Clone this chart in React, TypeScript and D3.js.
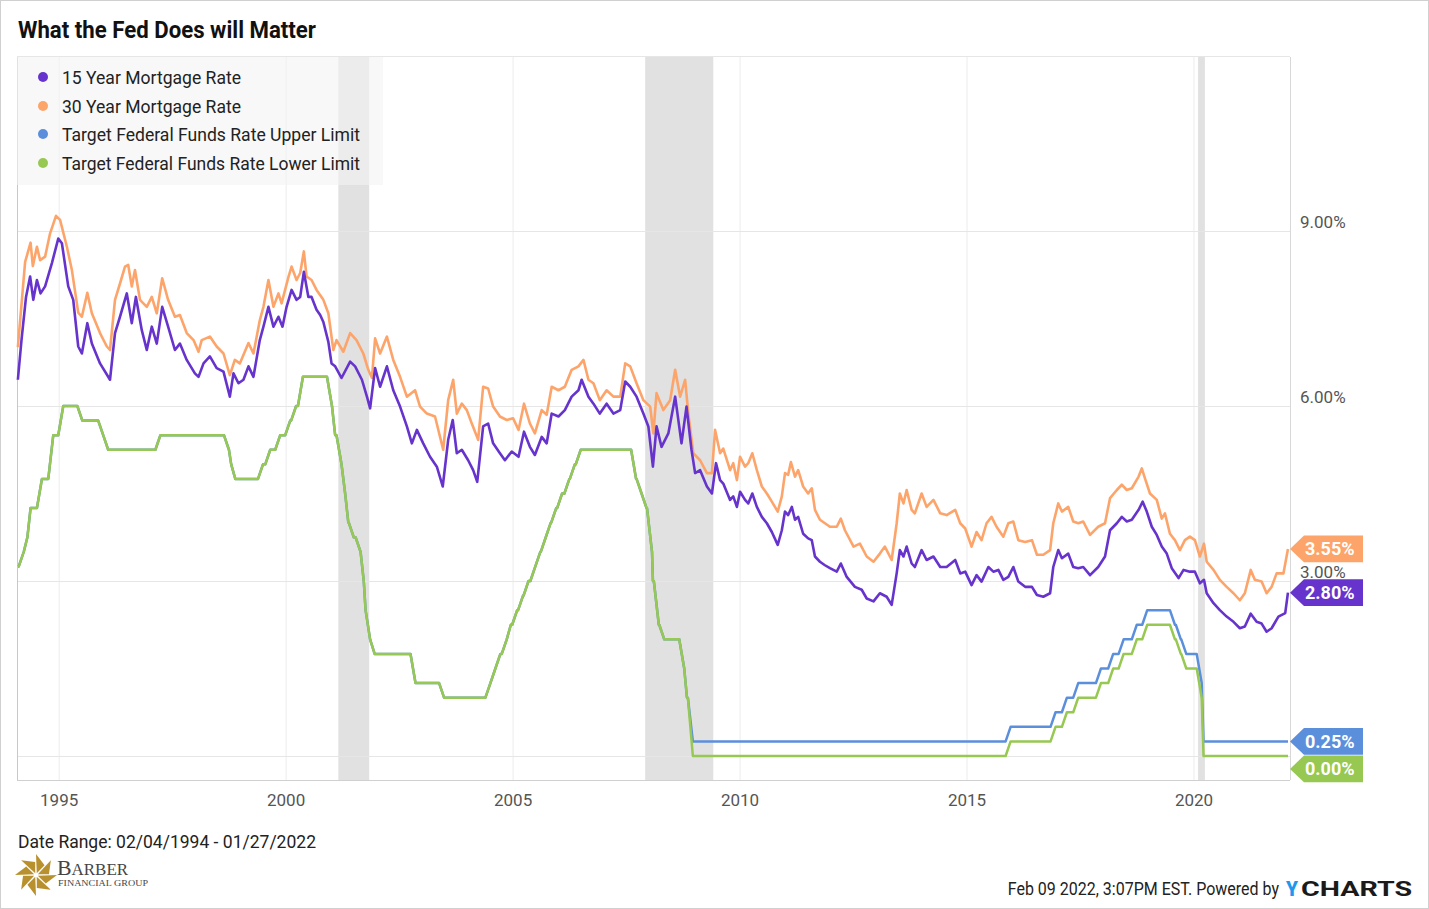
import React from "react";
import * as d3 from "d3";

const START = 1994.093;
const END = 2022.071;

const seriesNames = [
  "15 Year Mortgage Rate",
  "30 Year Mortgage Rate",
  "Target Federal Funds Rate Upper Limit",
  "Target Federal Funds Rate Lower Limit",
];
const seriesColors = ["#6633cc", "#fda46a", "#5b8fdc", "#96c852"];

const m30Years = [
  1994.09,1994.25,1994.37,1994.42,1994.51,1994.58,1994.69,1994.80,1994.93,1995.02,
  1995.17,1995.28,1995.42,1995.50,1995.62,1995.72,1995.90,1996.05,1996.12,1996.23,
  1996.34,1996.45,1996.52,1996.60,1996.67,1996.78,1996.93,1997.04,1997.15,1997.27,
  1997.40,1997.55,1997.66,1997.81,1997.96,1998.07,1998.14,1998.32,1998.47,1998.62,
  1998.76,1998.87,1998.98,1999.17,1999.28,1999.42,1999.50,1999.61,1999.72,1999.83,
  1999.90,2000.05,2000.12,2000.23,2000.31,2000.39,2000.45,2000.56,2000.67,2000.82,
  2000.93,2001.04,2001.11,2001.26,2001.41,2001.55,2001.70,2001.81,2001.89,2001.96,
  2002.07,2002.22,2002.36,2002.51,2002.66,2002.84,2002.95,2003.10,2003.28,2003.46,
  2003.57,2003.68,2003.76,2003.87,2003.98,2004.09,2004.23,2004.34,2004.45,2004.56,
  2004.71,2004.86,2005.00,2005.12,2005.24,2005.37,2005.48,2005.63,2005.74,2005.85,
  2006.00,2006.14,2006.29,2006.44,2006.55,2006.66,2006.77,2006.91,2007.06,2007.21,
  2007.36,2007.47,2007.58,2007.72,2007.87,2008.02,2008.09,2008.16,2008.31,2008.46,
  2008.57,2008.68,2008.79,2008.86,2008.97,2009.12,2009.27,2009.38,2009.45,2009.56,
  2009.63,2009.78,2009.85,2009.93,2010.00,2010.11,2010.18,2010.27,2010.37,2010.48,
  2010.59,2010.70,2010.83,2010.92,2010.99,2011.06,2011.12,2011.21,2011.28,2011.39,
  2011.50,2011.58,2011.65,2011.76,2011.87,2011.98,2012.13,2012.22,2012.31,2012.50,
  2012.64,2012.79,2012.94,2013.08,2013.19,2013.34,2013.45,2013.52,2013.60,2013.67,
  2013.78,2013.85,2014.00,2014.11,2014.26,2014.41,2014.55,2014.74,2014.85,2014.96,
  2015.10,2015.21,2015.32,2015.43,2015.54,2015.65,2015.80,2015.91,2016.02,2016.13,
  2016.28,2016.43,2016.54,2016.68,2016.83,2016.90,2017.01,2017.09,2017.23,2017.34,
  2017.45,2017.56,2017.71,2017.89,2018.04,2018.15,2018.30,2018.41,2018.52,2018.63,
  2018.78,2018.85,2018.92,2019.03,2019.18,2019.29,2019.36,2019.47,2019.58,2019.69,
  2019.80,2019.91,2020.02,2020.13,2020.22,2020.28,2020.43,2020.57,2020.72,2020.87,
  2021.01,2021.12,2021.25,2021.34,2021.49,2021.60,2021.71,2021.82,2021.97,2022.07,
];
const m30Values = [
  7.01,8.47,8.8,8.4,8.73,8.5,8.56,8.96,9.26,9.19,
  8.73,8.33,7.6,7.53,7.94,7.59,7.25,7.02,6.96,7.82,
  8.1,8.39,8.42,8.05,8.33,7.82,7.7,7.87,7.59,8.19,
  7.82,7.53,7.56,7.25,7.13,6.93,7.13,7.19,7.02,6.9,
  6.53,6.79,6.73,7.08,6.9,7.47,7.7,8.16,7.7,7.93,
  7.76,8.21,8.39,8.16,8.28,8.65,8.22,8.16,7.99,7.82,
  7.59,6.96,7.13,6.93,7.25,7.13,6.9,6.62,6.48,7.16,
  6.9,7.19,6.79,6.5,6.16,6.27,5.99,5.87,5.82,5.25,
  6.1,6.45,5.87,6.04,5.93,5.7,5.42,6.33,6.3,5.99,
  5.82,5.76,5.79,5.59,6.04,5.7,5.53,5.93,5.85,6.33,
  6.27,6.33,6.62,6.68,6.79,6.45,6.39,6.1,6.27,6.16,
  6.16,6.73,6.68,6.39,6.1,5.99,5.53,6.22,5.93,6.1,
  6.62,6.16,6.45,5.87,5.19,5.07,4.85,4.85,5.59,5.19,
  5.27,4.9,5.02,4.73,5.13,4.96,5.02,5.19,4.9,4.62,
  4.5,4.36,4.19,4.45,4.85,4.82,5.04,4.79,4.9,4.62,
  4.5,4.59,4.22,4.05,3.99,3.93,3.93,4.07,3.87,3.59,
  3.64,3.42,3.33,3.47,3.59,3.36,3.99,4.5,4.33,4.56,
  4.22,4.16,4.5,4.27,4.39,4.16,4.13,4.22,3.99,3.9,
  3.59,3.84,3.7,3.99,4.1,3.93,3.76,3.99,4.02,3.7,
  3.67,3.7,3.45,3.45,3.53,3.99,4.33,4.19,4.27,4.02,
  3.99,4.02,3.79,3.93,3.99,4.42,4.56,4.65,4.56,4.59,
  4.79,4.93,4.76,4.5,4.39,4.07,4.16,3.81,3.7,3.53,
  3.7,3.76,3.7,3.42,3.64,3.33,3.19,3.02,2.9,2.79,
  2.67,2.79,3.19,3.02,2.99,2.79,2.9,3.13,3.13,3.55,
];

const m15Years = [
  1994.09,1994.17,1994.27,1994.36,1994.43,1994.51,1994.59,1994.69,1994.84,1994.98,
  1995.06,1995.20,1995.31,1995.42,1995.50,1995.62,1995.72,1995.90,1996.12,1996.23,
  1996.34,1996.49,1996.60,1996.69,1996.82,1996.93,1997.04,1997.15,1997.27,1997.40,
  1997.55,1997.66,1997.81,1997.99,1998.07,1998.18,1998.32,1998.47,1998.62,1998.76,
  1998.84,1998.95,1999.06,1999.17,1999.28,1999.42,1999.50,1999.61,1999.72,1999.83,
  1999.92,2000.01,2000.12,2000.23,2000.31,2000.39,2000.49,2000.56,2000.67,2000.75,
  2000.82,2000.93,2001.00,2001.08,2001.22,2001.41,2001.52,2001.67,2001.78,2001.85,
  2001.96,2002.07,2002.22,2002.36,2002.51,2002.66,2002.77,2002.88,2003.02,2003.17,
  2003.32,2003.45,2003.57,2003.67,2003.76,2003.87,2004.01,2004.12,2004.21,2004.34,
  2004.45,2004.56,2004.71,2004.82,2004.97,2005.12,2005.24,2005.37,2005.48,2005.63,
  2005.74,2005.85,2006.00,2006.14,2006.29,2006.44,2006.51,2006.66,2006.77,2006.91,
  2007.06,2007.21,2007.36,2007.47,2007.58,2007.72,2007.87,2007.98,2008.08,2008.16,
  2008.27,2008.42,2008.57,2008.71,2008.82,2008.93,2009.01,2009.12,2009.27,2009.38,
  2009.47,2009.56,2009.63,2009.78,2009.85,2009.93,2010.00,2010.11,2010.18,2010.27,
  2010.37,2010.48,2010.59,2010.70,2010.83,2010.92,2010.99,2011.06,2011.14,2011.21,
  2011.28,2011.39,2011.50,2011.58,2011.65,2011.76,2011.87,2011.98,2012.13,2012.22,
  2012.35,2012.53,2012.68,2012.79,2012.94,2013.08,2013.23,2013.34,2013.45,2013.52,
  2013.60,2013.67,2013.78,2013.85,2014.00,2014.11,2014.26,2014.41,2014.55,2014.74,
  2014.85,2014.96,2015.10,2015.21,2015.32,2015.47,2015.58,2015.69,2015.80,2015.91,
  2016.02,2016.13,2016.28,2016.43,2016.54,2016.68,2016.83,2016.90,2017.01,2017.09,
  2017.23,2017.34,2017.45,2017.56,2017.71,2017.89,2018.04,2018.15,2018.30,2018.41,
  2018.52,2018.63,2018.78,2018.87,2018.96,2019.07,2019.18,2019.29,2019.40,2019.51,
  2019.66,2019.77,2019.91,2020.02,2020.13,2020.22,2020.28,2020.43,2020.57,2020.72,
  2020.87,2021.01,2021.12,2021.25,2021.38,2021.49,2021.60,2021.71,2021.86,2022.01,
  2022.07,
];
const m15Values = [
  6.45,7.13,7.87,8.22,7.82,8.16,7.93,8.05,8.45,8.87,
  8.79,8.05,7.82,7.02,6.9,7.42,7.07,6.73,6.45,7.25,
  7.53,7.93,7.42,7.87,7.3,6.96,7.36,7.07,7.7,7.36,
  6.96,7.07,6.79,6.56,6.5,6.73,6.85,6.65,6.59,6.16,
  6.56,6.39,6.45,6.68,6.5,7.13,7.36,7.7,7.36,7.53,
  7.36,7.7,7.99,7.82,7.87,8.3,7.87,7.87,7.65,7.56,
  7.44,7.1,6.73,6.68,6.48,6.76,6.68,6.45,6.16,5.96,
  6.65,6.33,6.68,6.27,5.99,5.65,5.36,5.59,5.36,5.13,
  4.96,4.62,5.42,5.76,5.19,5.25,5.07,4.9,4.7,5.65,
  5.7,5.36,5.19,5.07,5.22,5.13,5.56,5.3,5.16,5.47,
  5.36,5.87,5.82,5.93,6.16,6.27,6.45,6.16,6.04,5.87,
  6.04,5.87,5.93,6.42,6.33,6.16,5.87,5.65,4.96,5.65,
  5.3,5.53,6.16,5.36,5.99,5.25,4.85,4.9,4.62,4.5,
  5.02,4.73,4.67,4.39,4.45,4.27,4.53,4.39,4.33,4.5,
  4.27,4.1,3.99,3.84,3.62,3.87,4.19,4.13,4.27,4.05,
  4.1,3.81,3.73,3.7,3.42,3.33,3.27,3.22,3.16,3.3,
  3.07,2.9,2.85,2.7,2.65,2.79,2.73,2.59,3.13,3.53,
  3.42,3.59,3.3,3.24,3.53,3.36,3.42,3.24,3.24,3.36,
  3.13,3.16,2.93,3.1,2.99,3.24,3.16,3.19,3.02,3.07,
  3.24,2.99,2.9,2.9,2.76,2.73,2.79,3.24,3.53,3.39,
  3.47,3.24,3.22,3.24,3.1,3.24,3.42,3.87,3.99,4.1,
  4.02,4.05,4.22,4.36,4.19,3.93,3.79,3.59,3.47,3.22,
  3.05,3.19,3.16,3.16,2.96,3.02,2.79,2.62,2.5,2.39,
  2.3,2.19,2.22,2.44,2.3,2.27,2.13,2.19,2.39,2.45,
  2.8,
];

// Fed funds target changes (decimal year) and the level after each change
const fedChangeYears = [
  1994.093,1994.22,1994.30,1994.37,1994.62,1994.87,1995.09,1995.51,1995.97,1996.08,
  1997.23,1998.74,1998.79,1998.88,1999.49,1999.65,1999.87,2000.09,2000.22,2000.37,
  2001.01,2001.08,2001.22,2001.30,2001.37,2001.49,2001.64,2001.71,2001.75,2001.85,
  2001.95,2002.85,2003.48,2004.50,2004.61,2004.72,2004.86,2004.95,2005.09,2005.22,
  2005.34,2005.49,2005.60,2005.72,2005.83,2005.95,2006.08,2006.24,2006.36,2006.49,
  2007.71,2007.83,2007.94,2008.06,2008.08,2008.21,2008.33,2008.77,2008.83,2008.96,
  2015.96,2016.95,2017.20,2017.45,2017.95,2018.22,2018.45,2018.74,2018.97,2019.58,
  2019.71,2019.83,2020.17,2020.21,
];
const fedLowerValues = [
  3.25,3.5,3.75,4.25,4.75,5.5,6.0,5.75,5.5,5.25,
  5.5,5.25,5.0,4.75,5.0,5.25,5.5,5.75,6.0,6.5,
  6.0,5.5,5.0,4.5,4.0,3.75,3.5,3.0,2.5,2.0,
  1.75,1.25,1.0,1.25,1.5,1.75,2.0,2.25,2.5,2.75,
  3.0,3.25,3.5,3.75,4.0,4.25,4.5,4.75,5.0,5.25,
  4.75,4.5,4.25,3.5,3.0,2.25,2.0,1.5,1.0,0,
  0.25,0.5,0.75,1.0,1.25,1.5,1.75,2.0,2.25,2.0,
  1.75,1.5,1.0,0,
];
const fedUpperValues = [
  3.25,3.5,3.75,4.25,4.75,5.5,6.0,5.75,5.5,5.25,
  5.5,5.25,5.0,4.75,5.0,5.25,5.5,5.75,6.0,6.5,
  6.0,5.5,5.0,4.5,4.0,3.75,3.5,3.0,2.5,2.0,
  1.75,1.25,1.0,1.25,1.5,1.75,2.0,2.25,2.5,2.75,
  3.0,3.25,3.5,3.75,4.0,4.25,4.5,4.75,5.0,5.25,
  4.75,4.5,4.25,3.5,3.0,2.25,2.0,1.5,1.0,0.25,
  0.5,0.75,1.0,1.25,1.5,1.75,2.0,2.25,2.5,2.25,
  2.0,1.75,1.25,0.25,
];

const recessionStarts = [2001.15, 2007.91, 2020.09];
const recessionEnds = [2001.83, 2009.41, 2020.24];

const xTickYears = [1995, 2000, 2005, 2010, 2015, 2020];
const yGridValues = [0, 3, 6, 9, 12];
const yTickLabels = [3, 6, 9];

const FONT = "Roboto, 'Noto Sans', sans-serif";

function fedPoints(values: number[]): [number, number][] {
  const pts: [number, number][] = [[fedChangeYears[0], values[0]]];
  for (let i = 1; i < fedChangeYears.length; i++) {
    const d = fedChangeYears[i];
    const last = pts[pts.length - 1];
    const a = d - 0.11;
    if (a > last[0]) pts.push([a, values[i - 1]]);
    pts.push([d, values[i]]);
  }
  pts.push([END, values[values.length - 1]]);
  return pts;
}

export default function App() {
  const W = 1429;
  const H = 909;
  const plotL = 17;
  const plotR = 1290;
  const plotT = 57;
  const plotB = 780;

  const x = d3.scaleLinear().domain([START, END]).range([18, 1288]);
  const y = d3.scaleLinear().domain([0, 9]).range([756, 231]);

  const line = d3
    .line<[number, number]>()
    .x((d) => x(d[0]))
    .y((d) => y(d[1]));

  const m30: [number, number][] = m30Years.map((yr, i) => [yr, m30Values[i]]);
  const m15: [number, number][] = m15Years.map((yr, i) => [yr, m15Values[i]]);
  const upper = fedPoints(fedUpperValues);
  const lower = fedPoints(fedLowerValues);

  const tagItems = [
    { v: m30Values[m30Values.length - 1], color: seriesColors[1] },
    { v: m15Values[m15Values.length - 1], color: seriesColors[0] },
    { v: fedUpperValues[fedUpperValues.length - 1], color: seriesColors[2] },
    { v: fedLowerValues[fedLowerValues.length - 1], color: seriesColors[3] },
  ]
    .map((t) => ({ ...t, cy: y(t.v) }))
    .sort((a, b) => a.cy - b.cy);
  for (let i = 1; i < tagItems.length; i++) {
    if (tagItems[i].cy < tagItems[i - 1].cy + 27.5) tagItems[i].cy = tagItems[i - 1].cy + 27.5;
  }
  const fmt = d3.format(".2f");

  const legendY = [77, 106, 134, 163];

  // pinwheel logo blades
  const cx0 = 36;
  const cy0 = 875;
  const blades = d3.range(8).map((i) => {
    const t = (i * Math.PI) / 4 - Math.PI / 2;
    const p1 = [cx0 + 2 * Math.cos(t + 0.4), cy0 + 2 * Math.sin(t + 0.4)];
    const p2 = [cx0 + 21 * Math.cos(t), cy0 + 21 * Math.sin(t)];
    const p3 = [cx0 + 13 * Math.cos(t + 0.72), cy0 + 13 * Math.sin(t + 0.72)];
    return `M${p1[0]},${p1[1]}L${p2[0]},${p2[1]}L${p3[0]},${p3[1]}Z`;
  });

  return (
    <div style={{ position: "absolute", left: 0, top: 0 }}>
      <svg width={W} height={H} style={{ display: "block" }} fontFamily={FONT}>
        <rect x={0} y={0} width={W} height={H} fill="#ffffff" />
        <rect x={0.5} y={0.5} width={W - 1} height={H - 1} fill="none" stroke="#d0d0d0" />

        <text x={18} y={38} fontSize={23} fontWeight={700} fill="#111" textLength={298} lengthAdjust="spacingAndGlyphs">
          What the Fed Does will Matter
        </text>

        {/* recession bands */}
        {recessionStarts.map((s, i) => (
          <rect key={i} x={x(s)} y={plotT} width={x(recessionEnds[i]) - x(s)} height={plotB - plotT} fill="#e1e1e1" />
        ))}

        {/* grid */}
        {xTickYears.map((t) => (
          <line key={t} x1={x(t)} x2={x(t)} y1={plotT} y2={plotB} stroke="#ececec" strokeWidth={1} />
        ))}
        {yGridValues.map((v) => (
          <line key={v} x1={plotL} x2={plotR} y1={Math.round(y(v)) + 0.5} y2={Math.round(y(v)) + 0.5} stroke="#e6e6e6" strokeWidth={1} />
        ))}

        {/* frame */}
        <line x1={plotL + 0.5} x2={plotL + 0.5} y1={plotT} y2={plotB} stroke="#c8c8c8" />
        <line x1={plotR + 0.5} x2={plotR + 0.5} y1={plotT} y2={plotB} stroke="#d8d8d8" />
        <line x1={plotL} x2={plotR} y1={plotB + 0.5} y2={plotB + 0.5} stroke="#d0d0d0" />

        {/* fed funds */}
        <path d={line(upper) || ""} fill="none" stroke={seriesColors[2]} strokeWidth={2.5} strokeLinejoin="round" />
        <path d={line(lower) || ""} fill="none" stroke={seriesColors[3]} strokeWidth={2.5} strokeLinejoin="round" />
        {/* mortgages */}
        <path d={line(m30) || ""} fill="none" stroke={seriesColors[1]} strokeWidth={2.6} strokeLinejoin="round" />
        <path d={line(m15) || ""} fill="none" stroke={seriesColors[0]} strokeWidth={2.6} strokeLinejoin="round" />

        {/* legend */}
        <rect x={plotL} y={plotT} width={366} height={128} fill="#f4f4f4" fillOpacity={0.6} />
        {seriesNames.map((n, i) => (
          <g key={n}>
            <circle cx={43} cy={legendY[i]} r={5} fill={seriesColors[i]} />
            <text
              x={62}
              y={legendY[i] + 7}
              fontSize={19}
              fill="#222"
              textLength={i < 2 ? 179 : 298}
              lengthAdjust="spacingAndGlyphs"
            >
              {n}
            </text>
          </g>
        ))}

        {/* axis labels */}
        {xTickYears.map((t) => (
          <text key={t} x={x(t)} y={806} fontSize={17} fill="#555" textAnchor="middle">
            {t}
          </text>
        ))}
        {yTickLabels.map((v) => (
          <text key={v} x={1300} y={y(v) - 3} fontSize={17} fill="#555">
            {fmt(v)}%
          </text>
        ))}

        {/* end tags */}
        {tagItems.map((t, i) => (
          <g key={i}>
            <path
              d={`M${plotR},${t.cy}L${1304},${t.cy - 13.3}L${1363},${t.cy - 13.3}L${1363},${t.cy + 13.3}L${1304},${t.cy + 13.3}Z`}
              fill={t.color}
            />
            <text x={1305} y={t.cy + 6.5} fontSize={18} fontWeight={700} fill="#fff">
              {fmt(t.v)}%
            </text>
          </g>
        ))}

        {/* footer */}
        <text x={18} y={848} fontSize={18} fill="#222" textLength={298} lengthAdjust="spacingAndGlyphs">
          Date Range: 02/04/1994 - 01/27/2022
        </text>
        <g>
          {blades.map((d, i) => (
            <path key={i} d={d} fill="#b8912e" />
          ))}
          <text x={57} y={875} fill="#444" fontFamily="'Liberation Serif', 'DejaVu Serif', serif" textLength={71} lengthAdjust="spacingAndGlyphs">
            <tspan fontSize={22}>B</tspan>
            <tspan fontSize={17}>ARBER</tspan>
          </text>
          <text x={58} y={886} fontSize={9} fill="#444" fontFamily="'Liberation Serif', 'DejaVu Serif', serif" textLength={90} lengthAdjust="spacingAndGlyphs">
            FINANCIAL GROUP
          </text>
        </g>
        <g transform="translate(1279,895) scale(1,1.12)">
          <text x={0} y={0} fontSize={16} fill="#222" textAnchor="end">
            Feb 09 2022, 3:07PM EST. Powered by
          </text>
        </g>
        <text x={1286} y={896} fontSize={21} fontWeight={900} fill="#1e98ee" textLength={12} lengthAdjust="spacingAndGlyphs">
          Y
        </text>
        <text x={1301} y={896} fontSize={21} fontWeight={700} fill="#1a1a1a" textLength={111} lengthAdjust="spacingAndGlyphs">
          CHARTS
        </text>
      </svg>
    </div>
  );
}
